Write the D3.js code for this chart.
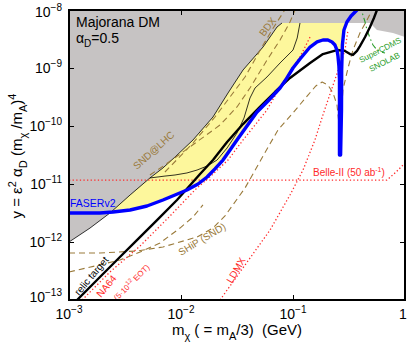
<!DOCTYPE html>
<html>
<head>
<meta charset="utf-8">
<script src="https://cdn.jsdelivr.net/npm/d3@7"></script>
<style>
  body { margin: 0; background: #fff; }
  svg { display: block; font-family: "Liberation Sans", Arial, Helvetica, sans-serif; }
</style>
</head>
<body>
<svg id="chart" width="407" height="343"></svg>
<script>
// curves as [m_chi (GeV), y] pairs
var excludedEdge = [[1.0e-3,1.0e-12],[1.54e-3,1.74e-12],[2.32e-3,3.16e-12],[3.51e-3,6.46e-12],[5.28e-3,1.27e-11],
  [6.90e-3,1.89e-11],[8.84e-3,2.92e-11],[1.28e-2,5.74e-11],[1.93e-2,1.43e-10],[2.63e-2,3.71e-10],[3.58e-2,9.24e-10],
  [5.40e-2,2.30e-9],[7.20e-2,5.09e-9],[7.98e-2,5.97e-9],[0.487,5.97e-9],[0.562,4.52e-9],[0.781,4.01e-9],[1,3.42e-9]]
var faserLower = [[1.0e-3,3.16e-12],[1.89e-3,3.16e-12],[2.47e-3,3.29e-12],[3.51e-3,3.56e-12],[4.97e-3,4.18e-12],
  [6.90e-3,5.30e-12],[8.84e-3,6.46e-12],[1.13e-2,7.88e-12],[1.42e-2,1.0e-11],[1.71e-2,1.32e-11],[2.01e-2,1.82e-11],
  [2.37e-2,2.59e-11],[2.74e-2,3.86e-11],[3.16e-2,5.74e-11],[3.88e-2,1.0e-10],[4.77e-2,1.74e-10],[5.98e-2,2.70e-10],
  [7.66e-2,4.52e-10],[8.83e-2,6.73e-10],[0.1,1.0e-9],[0.1155,1.43e-9],[0.142,2.30e-9],[0.164,2.81e-9],[0.185,3.04e-9],
  [0.205,3.04e-9],[0.223,2.81e-9],[0.237,2.49e-9],[0.247,2.04e-9],[0.252,1.61e-9],[0.257,1.08e-9],[0.26,6.21e-10],
  [0.26,1.89e-10],[0.26,3.16e-11]]
var faserUpper = [[0.266,3.16e-11],[0.271,1.89e-10],[0.272,9.24e-10],[0.276,2.49e-9],[0.285,4.52e-9],[0.303,6.21e-9],
  [0.330,7.88e-9],[0.365,9.61e-9],[0.413,1.22e-8]]
var relic = [[1.18e-3,1.0e-13],[1.89e-3,2.49e-13],[2.85e-3,5.51e-13],[4.04e-3,1.08e-12],[6.11e-3,2.39e-12],
  [9.21e-3,5.30e-12],[1.48e-2,1.49e-11],[1.93e-2,2.59e-11],[2.58e-2,5.30e-11],[3.58e-2,1.08e-10],[5.07e-2,2.13e-10],
  [6.90e-2,3.86e-10],[9.40e-2,6.73e-10],[0.142,1.22e-9],[0.185,1.74e-9],[0.247,2.04e-9],[0.291,1.97e-9],[0.323,1.74e-9],
  [0.343,1.68e-9],[0.373,1.97e-9],[0.396,2.39e-9],[0.440,3.42e-9],[0.487,5.09e-9],[0.528,7.28e-9],[0.562,1.0e-8],[0.586,1.22e-8]]
var innerLine = [[5.28e-3,1.27e-11],[7.19e-3,1.37e-11],[8.84e-3,1.43e-11],[1.13e-2,1.55e-11],[1.39e-2,1.74e-11],
  [1.71e-2,2.04e-11],[2.10e-2,2.59e-11],[2.58e-2,4.18e-11],[3.16e-2,7.57e-11],[3.65e-2,1.37e-10],[4.13e-2,3.04e-10],
  [4.58e-2,4.52e-10],[5.86e-2,7.00e-10],[7.66e-2,1.22e-9],[0.1,2.04e-9],[0.109,3.29e-9],[0.1155,5.97e-9]]
var bdx = [[7.19e-3,1.61e-11],[1.28e-2,5.09e-11],[2.01e-2,1.43e-10],[3.73e-2,7.00e-10],[5.28e-2,2.30e-9],
  [6.49e-2,4.52e-9],[8.66e-2,1.08e-8]]
var sndLhc = [[5.28e-3,1.43e-11],[7.19e-3,2.13e-11],[1.20e-2,4.35e-11],[2.23e-2,1.04e-10],[3.16e-2,2.13e-10],
  [4.13e-2,4.52e-10],[5.86e-2,1.37e-9],[7.66e-2,3.04e-9],[9.40e-2,6.21e-9],[0.106,1.08e-8]]
var shipSnd = [[1.0e-3,6.46e-13],[1.89e-3,6.46e-13],[4.04e-3,7.00e-13],[6.90e-3,8.20e-13],[1.39e-2,1.22e-12],
  [1.93e-2,1.74e-12],[2.47e-2,2.81e-12],[3.73e-2,8.53e-12],[5.28e-2,2.81e-11],[7.34e-2,8.53e-11],[0.1,1.68e-10],
  [0.136,3.42e-10],[0.160,4.90e-10],[0.182,5.74e-10],[0.205,5.09e-10],[0.228,3.71e-10],[0.247,2.30e-10],
  [0.258,1.04e-10],[0.263,3.86e-11],[0.269,1.27e-10],[0.279,4.17e-10],[0.310,1.0e-9],[0.343,2.04e-9],
  [0.396,4.01e-9],[0.458,6.73e-9],[0.518,1.08e-8]]
var sndLower = [[1.0e-3,3.04e-13],[1.71e-3,3.86e-13],[2.85e-3,4.90e-13],[4.31e-3,6.73e-13],[6.49e-3,9.61e-13],
  [9.80e-3,1.74e-12],[1.28e-2,2.70e-12],[1.57e-2,4.35e-12]]
var na64 = [[1.31e-3,1.0e-13],[2.32e-3,3.04e-13],[4.31e-3,8.53e-13],[7.98e-3,2.81e-12],[1.33e-2,7.88e-12],
  [1.89e-2,1.43e-11],[2.63e-2,2.59e-11],[3.58e-2,5.74e-11],[4.58e-2,1.04e-10],[5.86e-2,1.89e-10],[7.66e-2,4.70e-10],
  [9.40e-2,8.53e-10],[0.1155,1.55e-9],[0.142,3.42e-9]]
var ldmx = [[2.23e-2,1.0e-13],[3.73e-2,4.01e-13],[6.24e-2,1.61e-12],[9.40e-2,6.46e-12],[0.1228,1.74e-11],
  [0.157,5.74e-11],[0.185,1.55e-10],[0.228,5.09e-10],[0.263,1.13e-9],[0.291,2.04e-9],[0.310,4.52e-9]]
var belle2 = [[1.0e-3,1.17e-11],[0.690,1.17e-11],[0.832,1.61e-11],[1,2.30e-11]]
var superCdms = [[0.396,1.22e-8],[0.413,9.24e-9],[0.440,6.21e-9],[0.458,4.52e-9],[0.487,3.29e-9],[0.518,2.49e-9],
  [0.562,2.04e-9],[0.611,1.89e-9],[0.663,1.82e-9]]

var xTicks = [1e-3, 1e-2, 1e-1, 1]
var xTickExp = ["-3", "-2", "-1", null]
var yTicks = [1e-13, 1e-12, 1e-11, 1e-10, 1e-9, 1e-8]
var yTickExp = ["-13", "-12", "-11", "-10", "-9", "-8"]

var svg = d3.select("#chart")
var pLeft = 69, pRight = 405, pTop = 10, pBottom = 300

var x = d3.scaleLog().domain([1e-3, 1]).range([pLeft, pRight])
var y = d3.scaleLog().domain([1e-13, 1e-8]).range([pBottom, pTop])
var line = d3.line().x(function(d) { return x(d[0]) }).y(function(d) { return y(d[1]) })

svg.append("clipPath").attr("id", "plotclip")
  .append("rect").attr("x", pLeft).attr("y", pTop).attr("width", pRight - pLeft).attr("height", pBottom - pTop)

var plot = svg.append("g").attr("clip-path", "url(#plotclip)")

// yellow FASERv2 region, then grey excluded region on top
var yellowPoly = faserLower.concat(faserUpper, [[1e-3, 1.22e-8]])
plot.append("path").attr("d", line(yellowPoly) + "Z").attr("fill", "#fdf79c")

var greyPoly = excludedEdge.concat([[1, 1.22e-8], [1e-3, 1.22e-8]])
plot.append("path").attr("d", line(greyPoly) + "Z").attr("fill", "#c6c3c3")

function curve(data, color, width, dash) {
  var p = plot.append("path").attr("d", line(data))
    .attr("fill", "none").attr("stroke", color).attr("stroke-width", width)
    .attr("stroke-linejoin", "round")
  if (dash) p.attr("stroke-dasharray", dash)
  return p
}

curve(excludedEdge.slice(0, 14), "#000", 0.8)
curve(innerLine, "#000", 0.8)

var brown = "#9a7a3a"
curve(bdx, brown, 1.1, "6,4")
curve(sndLhc, brown, 1.1, "6,4")
curve(shipSnd, brown, 1.1, "6,4")
curve(sndLower, brown, 1.1, "6,4")

var red = "#ff2a2a"
curve(na64, red, 1.3, "1.3,2.3")
curve(ldmx, red, 1.3, "1.3,2.3")
curve(belle2, red, 1.3, "1.3,2.3")

curve(superCdms, "#2a9d2a", 1.1, "6,3,1.5,3")

curve(relic, "#000", 2.4)
curve(faserLower.concat(faserUpper), "#0000ff", 3.4)

// labels
function rich(sel, parts, base, small) {
  var cur = 0
  parts.forEach(function(p) {
    var off = p[1] === "sup" ? -0.42 * base : p[1] === "sub" ? 0.3 * base : 0
    sel.append("tspan").attr("dy", off - cur)
      .style("font-size", (p[1] === "base" ? base : small) + "px").text(p[0])
    cur = off
  })
  return sel
}

function label(px, py, angle, color, size) {
  return svg.append("text")
    .attr("transform", "translate(" + px + "," + py + ") rotate(" + angle + ")")
    .attr("fill", color).style("font-size", size + "px")
}

svg.append("text").attr("x", 76).attr("y", 27).style("font-size", "14px").text("Majorana DM")
rich(svg.append("text").attr("x", 76).attr("y", 43), [["\u03b1", "base"], ["D", "sub"], ["=0.5", "base"]], 14, 10)

label(70, 207, 0, "#0000ff", 10.5).text("FASERv2")
rich(label(313, 176, 0, red, 10), [["Belle-II (50 ab", "base"], ["-1", "sup"], [")", "base"]], 10, 7)
label(137, 170, -42, brown, 10).text("SND@LHC")
label(181, 256, -31, brown, 10).text("SHiP (SND)")
label(264, 37, -52, brown, 10).text("BDX")
label(79, 296, -50, "#000", 10).text("relic target")
label(101, 298, -50, red, 10).text("NA64")
rich(label(117, 301, -45, red, 8), [["(5\u00b710", "base"], ["12", "sup"], [" EOT)", "base"]], 8, 6)
label(232, 284, -60, red, 10).text("LDMX")
label(361, 63, -27, "#2a9d2a", 8.2).text("SuperCDMS")
label(371, 72, -27, "#2a9d2a", 8.2).text("SNOLAB")

// frame and ticks
var axes = svg.append("g")
axes.append("g").attr("transform", "translate(0," + pBottom + ")")
  .call(d3.axisBottom(x).tickValues(xTicks).tickSize(-5).tickFormat(""))
axes.append("g").attr("transform", "translate(0," + pTop + ")")
  .call(d3.axisTop(x).tickValues(xTicks).tickSize(-5).tickFormat(""))
axes.append("g").attr("transform", "translate(" + pLeft + ",0)")
  .call(d3.axisLeft(y).tickValues(yTicks).tickSize(-5).tickFormat(""))
axes.append("g").attr("transform", "translate(" + pRight + ",0)")
  .call(d3.axisRight(y).tickValues(yTicks).tickSize(-5).tickFormat(""))
axes.selectAll(".domain").remove()
axes.selectAll(".tick line").attr("stroke", "#000").attr("stroke-width", 1)

svg.append("rect").attr("x", pLeft).attr("y", pTop).attr("width", pRight - pLeft).attr("height", pBottom - pTop)
  .attr("fill", "none").attr("stroke", "#000").attr("stroke-width", 2)

yTicks.forEach(function(v, i) {
  var dy = i === 0 ? 2 : (i === yTicks.length - 1 ? 7 : 5)
  rich(svg.append("text").attr("x", 62).attr("y", y(v) + dy).attr("text-anchor", "end"),
    [["10", "base"], ["\u2212" + yTickExp[i].slice(1), "sup"]], 14, 10)
})
xTicks.forEach(function(v, i) {
  var t = svg.append("text").attr("y", 319).attr("text-anchor", "middle")
  if (xTickExp[i]) rich(t.attr("x", x(v)), [["10", "base"], ["\u2212" + xTickExp[i].slice(1), "sup"]], 14, 10)
  else t.attr("x", x(v) - 2).style("font-size", "14px").text("1")
})

rich(svg.append("text").attr("x", 237).attr("y", 335).attr("text-anchor", "middle").style("white-space", "pre"),
  [["m", "base"], ["\u03c7", "sub"], [" ( = m", "base"], ["A", "sub"], ["/3)  (GeV)", "base"]], 15, 11)
rich(svg.append("text").attr("transform", "translate(22,156) rotate(-90)").attr("text-anchor", "middle"),
  [["y = \u03b5", "base"], ["2", "sup"], [" \u03b1", "base"], ["D", "sub"], [" (m", "base"], ["\u03c7", "sub"],
   [" /m", "base"], ["A", "sub"], [")", "base"], ["4", "sup"]], 15, 11)
</script>
</body>
</html>
